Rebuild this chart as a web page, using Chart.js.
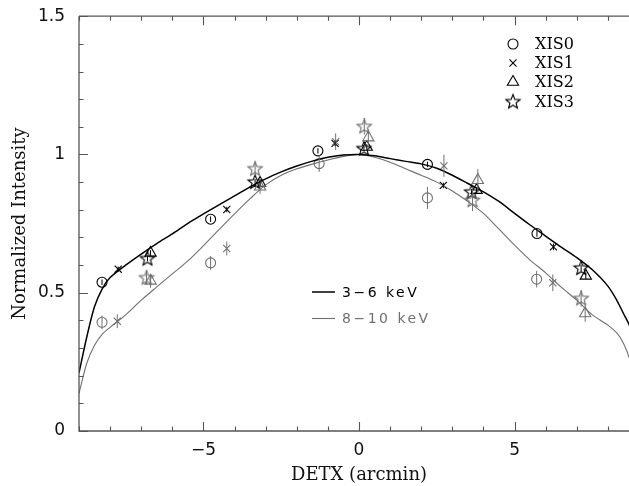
<!DOCTYPE html>
<html>
<head>
<meta charset="utf-8">
<script src="https://cdn.jsdelivr.net/npm/chart.js@4"></script>
<style>
  html, body { margin: 0; padding: 0; background: #fff; overflow: hidden; }
  #wrap { position: absolute; left: 0; top: 0; width: 650px; height: 486px; }
</style>
</head>
<body>
<div id="wrap"><canvas id="profile" width="650" height="486"></canvas></div>
<script>
// Tick labels
const xTicks = [-5, 0, 5];
const yTicks = [0, 0.5, 1, 1.5];

// Model curves
const curveX = [-9, -8.75, -8.5, -8.25, -8, -7.5, -7, -6.5, -6, -5.5, -5, -4.5, -4, -3.5, -3, -2.5, -2, -1.5, -1, -0.5,
                0, 0.5, 1, 1.5, 2, 2.5, 3, 3.5, 4, 4.5, 5, 5.5, 6, 6.5, 7, 7.5, 8, 8.3, 8.5, 8.7, 9];
const hardCurveY = [0.21, 0.34, 0.45, 0.515, 0.555, 0.60, 0.64, 0.678, 0.713, 0.751, 0.785, 0.818, 0.85, 0.883, 0.912, 0.937, 0.958, 0.976, 0.99, 0.998,
                    1.0, 0.995, 0.985, 0.975, 0.966, 0.95, 0.925, 0.895, 0.865, 0.83, 0.787, 0.745, 0.705, 0.665, 0.627, 0.583, 0.524, 0.47, 0.425, 0.38, 0.28];
const softCurveY = [0.136, 0.245, 0.31, 0.35, 0.375, 0.42, 0.473, 0.521, 0.568, 0.615, 0.67, 0.728, 0.785, 0.84, 0.89, 0.925, 0.948, 0.965, 0.98, 0.993,
                    1.0, 0.99, 0.972, 0.948, 0.925, 0.9, 0.868, 0.83, 0.787, 0.73, 0.672, 0.618, 0.572, 0.52, 0.473, 0.42, 0.383, 0.353, 0.317, 0.26, 0.14];

// 3-6 keV data
const hardXis0X = [-8.26, -4.77, -1.32, 2.20, 5.72];
const hardXis0Y = [0.538, 0.766, 1.013, 0.964, 0.714];
const hardXis1X = [-7.74, -4.25, -0.77, 2.71, 6.25];
const hardXis1Y = [0.585, 0.801, 1.040, 0.888, 0.666];
const hardXis2X = [-6.70, -3.18, 0.25, 3.78, 7.29];
const hardXis2Y = [0.644, 0.897, 1.027, 0.871, 0.561];
const hardXis3X = [-6.80, -3.34, 0.16, 3.62, 7.14];
const hardXis3Y = [0.624, 0.901, 1.022, 0.865, 0.590];
const hardErr = [0.01, 0.01, 0.01, 0.01, 0.012];

// 8-10 keV data
const softXis0X = [-8.26, -4.77, -1.28, 2.20, 5.71];
const softXis0Y = [0.393, 0.608, 0.967, 0.843, 0.549];
const softXis1X = [-7.77, -4.25, -0.75, 2.73, 6.23];
const softXis1Y = [0.397, 0.660, 1.046, 0.959, 0.536];
const softXis2X = [-6.70, -3.18, 0.30, 3.82, 7.27];
const softXis2Y = [0.543, 0.883, 1.061, 0.907, 0.425];
const softXis3X = [-6.83, -3.34, 0.17, 3.65, 7.14];
const softXis3Y = [0.555, 0.949, 1.102, 0.835, 0.480];
const softErr = [0.025, 0.025, 0.03, 0.04, 0.03];

const BLACK = '#000000';
const GREY = '#707070';

function pts(xs, ys) { return xs.map((x, i) => ({ x: x, y: ys[i] })); }

function makeStar(color) {
  const c = document.createElement('canvas');
  c.width = 18; c.height = 18;
  const g = c.getContext('2d');
  g.strokeStyle = color; g.lineWidth = 1.1;
  g.beginPath();
  for (let i = 0; i < 10; i++) {
    const r = i % 2 === 0 ? 7.5 : 3.2;
    const a = -Math.PI / 2 + i * Math.PI / 5;
    const px = 9 + r * Math.cos(a), py = 9.5 + r * Math.sin(a);
    if (i === 0) g.moveTo(px, py); else g.lineTo(px, py);
  }
  g.closePath(); g.stroke();
  return c;
}
const starBlack = makeStar(BLACK);
const starGrey = makeStar(GREY);

function scatter(label, data, color, style, radius, err) {
  return {
    type: 'scatter', label: label, data: data, err: err,
    pointStyle: style, pointRadius: radius, pointBorderWidth: 1.1,
    borderColor: color, backgroundColor: 'rgba(0,0,0,0)', pointBackgroundColor: 'rgba(0,0,0,0)'
  };
}

const decor = {
  id: 'decor',
  afterDatasetsDraw(chart) {
    const { ctx, scales: { x, y } } = chart;
    ctx.save();
    chart.data.datasets.forEach(ds => {
      if (!ds.err) return;
      ctx.strokeStyle = ds.borderColor; ctx.lineWidth = 1;
      ds.data.forEach((p, i) => {
        const px = x.getPixelForValue(p.x);
        ctx.beginPath();
        ctx.moveTo(px, y.getPixelForValue(p.y - ds.err[i]));
        ctx.lineTo(px, y.getPixelForValue(p.y + ds.err[i]));
        ctx.stroke();
      });
    });
    ctx.restore();
  },
  afterDraw(chart) {
    const { ctx, chartArea: a, scales: { x, y } } = chart;
    ctx.save();
    ctx.strokeStyle = '#555'; ctx.lineWidth = 1.3;
    ctx.beginPath();
    ctx.moveTo(a.left, a.top); ctx.lineTo(a.left, a.bottom); ctx.lineTo(a.right, a.bottom);
    ctx.moveTo(a.left, a.top); ctx.lineTo(a.right, a.top);
    ctx.stroke();
    ctx.lineWidth = 1.1;
    ctx.beginPath();
    for (let v = -9; v <= 9; v++) {
      const px = Math.round(x.getPixelForValue(v)) + 0.5;
      const len = xTicks.includes(v) ? 9 : 4.5;
      ctx.moveTo(px, a.bottom); ctx.lineTo(px, a.bottom - len);
      ctx.moveTo(px, a.top); ctx.lineTo(px, a.top + len);
    }
    for (let i = 0; i <= 15; i++) {
      const py = Math.round(y.getPixelForValue(i / 10)) + 0.5;
      const len = i % 5 === 0 ? 9 : 4.5;
      ctx.moveTo(a.left, py); ctx.lineTo(a.left + len, py);
    }
    ctx.stroke();

    // symbol legend
    const rows = [
      { t: 'XIS0', s: 'circle' }, { t: 'XIS1', s: 'crossRot' },
      { t: 'XIS2', s: 'triangle' }, { t: 'XIS3', s: 'star' }
    ];
    const rowY = [44, 63, 82, 102];
    ctx.font = '16px "DejaVu Serif"';
    ctx.textBaseline = 'middle'; ctx.textAlign = 'left';
    rows.forEach((r, i) => {
      ctx.strokeStyle = BLACK; ctx.lineWidth = 1.1; ctx.fillStyle = 'rgba(0,0,0,0)';
      if (r.s === 'star') ctx.drawImage(starBlack, 513 - 9, rowY[i] - 9.5);
      else Chart.helpers.drawPoint(ctx, { pointStyle: r.s, radius: r.s === 'triangle' ? 6.5 : 5, borderWidth: 1.1 }, 513, rowY[i]);
      ctx.fillStyle = BLACK;
      ctx.fillText(r.t, 535, rowY[i] + 1);
    });

    // line legend
    const lines = [{ t: '3\u22126 keV', c: BLACK, w: 1.5, yy: 292 },
                   { t: '8\u221210 keV', c: GREY, w: 1.1, yy: 318.5 }];
    ctx.font = '14px "DejaVu Sans"';
    ctx.letterSpacing = '2.5px';
    lines.forEach(l => {
      ctx.strokeStyle = l.c; ctx.lineWidth = l.w;
      ctx.beginPath(); ctx.moveTo(312, l.yy); ctx.lineTo(335, l.yy); ctx.stroke();
      ctx.fillStyle = l.c;
      ctx.fillText(l.t, 342, l.yy + 1);
    });
    ctx.restore();
  }
};

new Chart(document.getElementById('profile').getContext('2d'), {
  data: {
    datasets: [
      { type: 'line', label: '3-6 keV', data: pts(curveX, hardCurveY), borderColor: BLACK, borderWidth: 1.5,
        pointRadius: 0, tension: 0.3, fill: false },
      { type: 'line', label: '8-10 keV', data: pts(curveX, softCurveY), borderColor: GREY, borderWidth: 1.1,
        pointRadius: 0, tension: 0.3, fill: false },
      scatter('XIS0 8-10', pts(softXis0X, softXis0Y), GREY, 'circle', 5, softErr),
      scatter('XIS1 8-10', pts(softXis1X, softXis1Y), GREY, 'crossRot', 5, softErr),
      scatter('XIS2 8-10', pts(softXis2X, softXis2Y), GREY, 'triangle', 6.5, softErr),
      scatter('XIS3 8-10', pts(softXis3X, softXis3Y), GREY, starGrey, 8, softErr),
      scatter('XIS0 3-6', pts(hardXis0X, hardXis0Y), BLACK, 'circle', 5, hardErr),
      scatter('XIS1 3-6', pts(hardXis1X, hardXis1Y), BLACK, 'crossRot', 5, hardErr),
      scatter('XIS2 3-6', pts(hardXis2X, hardXis2Y), BLACK, 'triangle', 6.5, hardErr),
      scatter('XIS3 3-6', pts(hardXis3X, hardXis3Y), BLACK, starBlack, 8, hardErr)
    ]
  },
  options: {
    responsive: false,
    animation: false,
    layout: { padding: { top: 16, right: 11, left: 0, bottom: 0 } },
    plugins: { legend: { display: false }, tooltip: { enabled: false } },
    scales: {
      x: {
        type: 'linear', min: -9, max: 9,
        afterBuildTicks: s => { s.ticks = xTicks.map(v => ({ value: v })); },
        afterFit: s => { s.height = 55; },
        grid: { display: false }, border: { display: false },
        ticks: { padding: 1, color: '#111', font: { family: 'DejaVu Sans', size: 17 },
                 callback: v => v < 0 ? '\u2212' + Math.abs(v) : String(v) },
        title: { display: true, text: 'DETX (arcmin)', color: '#111', padding: { top: 2, bottom: 0 },
                 font: { family: 'DejaVu Serif', size: 18 } }
      },
      y: {
        type: 'linear', min: 0, max: 1.5,
        afterBuildTicks: s => { s.ticks = yTicks.map(v => ({ value: v })); },
        afterFit: s => { s.width = 79; },
        grid: { display: false }, border: { display: false },
        ticks: { padding: 6, color: '#111', font: { family: 'DejaVu Sans', size: 17 },
                 callback: v => String(v) },
        title: { display: true, text: 'Normalized Intensity', color: '#111', padding: { top: 10, bottom: 0 },
                 font: { family: 'DejaVu Serif', size: 18 } }
      }
    }
  },
  plugins: [decor]
});
</script>
</body>
</html>
